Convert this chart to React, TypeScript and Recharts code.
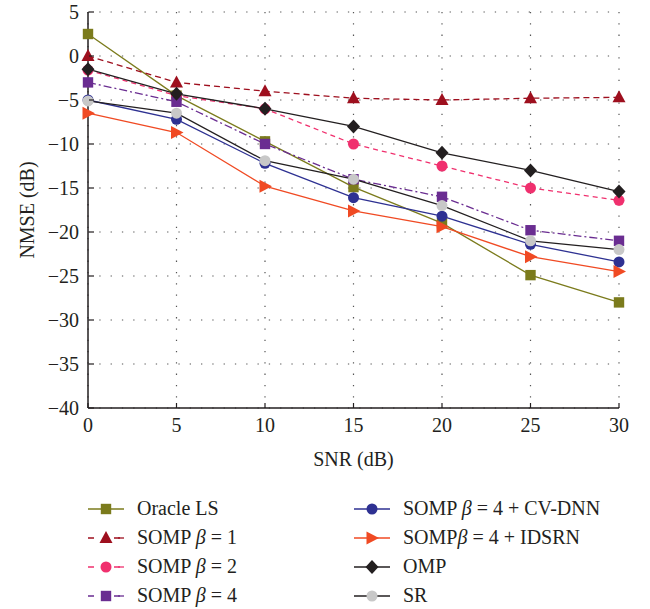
import React from "react";
import { LineChart, Line, XAxis, YAxis, CartesianGrid } from "recharts";

const snr = [0, 5, 10, 15, 20, 25, 30];
const yTicks = [5, 0, -5, -10, -15, -20, -25, -30, -35, -40];

const oracleLs = [2.5, -4.5, -9.7, -14.9, -19, -24.9, -28];
const somp1 = [0, -3, -4, -4.8, -5, -4.8, -4.7];
const somp2 = [-1.6, -4.5, -6, -10, -12.5, -15, -16.4];
const somp4 = [-3, -5.2, -10, -14, -16, -19.8, -21];
const cvDnn = [-5, -7.2, -12.2, -16.1, -18.2, -21.4, -23.4];
const idsrn = [-6.5, -8.7, -14.8, -17.6, -19.4, -22.8, -24.5];
const omp = [-1.5, -4.3, -6, -8, -11, -13, -15.4];
const sr = [-5.1, -6.5, -11.9, -14, -17, -21, -22];

type Shape = "square" | "triangle" | "circle" | "right" | "diamond";

const series = [
  { key: "oracle", name: "Oracle LS", values: oracleLs, line: "#7b7b1c", fill: "#7b7b1c", dash: undefined, shape: "square" as Shape },
  { key: "somp1", name: "SOMP β = 1", values: somp1, line: "#9e0f1e", fill: "#9e0f1e", dash: "6 4", shape: "triangle" as Shape },
  { key: "somp2", name: "SOMP β = 2", values: somp2, line: "#f0306e", fill: "#f0306e", dash: "5 4", shape: "circle" as Shape },
  { key: "somp4", name: "SOMP β = 4", values: somp4, line: "#6a2d91", fill: "#6a2d91", dash: "8 3 2 3", shape: "square" as Shape },
  { key: "cvdnn", name: "SOMP β = 4 + CV-DNN", values: cvDnn, line: "#2e3192", fill: "#2e3192", dash: undefined, shape: "circle" as Shape },
  { key: "idsrn", name: "SOMPβ = 4 + IDSRN", values: idsrn, line: "#f04a23", fill: "#f04a23", dash: undefined, shape: "right" as Shape },
  { key: "omp", name: "OMP", values: omp, line: "#231f20", fill: "#231f20", dash: undefined, shape: "diamond" as Shape },
  { key: "sr", name: "SR", values: sr, line: "#231f20", fill: "#c8c8c8", dash: undefined, shape: "circle" as Shape },
];

const data = snr.map((x, i) => {
  const row: Record<string, number> = { snr: x };
  series.forEach((s) => (row[s.key] = s.values[i]));
  return row;
});

const FONT = "Liberation Serif";
const minus = (v: number) => (v < 0 ? "\u2212" + Math.abs(v) : String(v));

function Marker({ cx, cy, shape, fill }: { cx: number; cy: number; shape: Shape; fill: string }) {
  if (cx == null || cy == null) return null;
  switch (shape) {
    case "square":
      return <rect x={cx - 5.2} y={cy - 5.2} width={10.4} height={10.4} fill={fill} />;
    case "triangle":
      return <polygon points={`${cx},${cy - 7} ${cx + 6.5},${cy + 5} ${cx - 6.5},${cy + 5}`} fill={fill} />;
    case "right":
      return <polygon points={`${cx - 5.5},${cy - 6.5} ${cx + 7},${cy} ${cx - 5.5},${cy + 6.5}`} fill={fill} />;
    case "diamond":
      return <polygon points={`${cx},${cy - 7} ${cx + 6.5},${cy} ${cx},${cy + 7} ${cx - 6.5},${cy}`} fill={fill} />;
    default:
      return <circle cx={cx} cy={cy} r={5.5} fill={fill} />;
  }
}

function renderName(name: string) {
  const parts = name.split("β");
  return parts.map((p, i) => (
    <React.Fragment key={i}>
      {i > 0 && <i>β</i>}
      {p}
    </React.Fragment>
  ));
}

function LegendItem({ s }: { s: (typeof series)[number] }) {
  return (
    <div style={{ display: "flex", alignItems: "center", height: 29 }}>
      <svg width={36} height={20} style={{ marginRight: 13 }}>
        <line x1={0} x2={36} y1={10} y2={10} stroke={s.line} strokeWidth={1.3} strokeDasharray={s.dash ? "6 20" : undefined} />
        {s.dash && <line x1={30} x2={36} y1={10} y2={10} stroke={s.line} strokeWidth={1.3} />}
        <Marker cx={18} cy={10} shape={s.shape} fill={s.fill} />
      </svg>
      <span>{renderName(s.name)}</span>
    </div>
  );
}

const LeftTick = (p: any) => (
  <g>
    <text x={p.x} y={p.y} dy="0.35em" textAnchor="end" fill="#231f20" fontSize={20} fontFamily={FONT}>
      {minus(p.payload.value)}
    </text>
    <line x1={p.x + 10} x2={p.x + 15} y1={p.y} y2={p.y} stroke="#231f20" strokeWidth={1.2} />
  </g>
);

const RightTick = (p: any) => (
  <line x1={p.x - 5} x2={p.x} y1={p.y} y2={p.y} stroke="#444" strokeWidth={1.2} />
);

const BottomTick = (p: any) => (
  <g>
    <text x={p.x} y={p.y} dy="0.8em" textAnchor="middle" fill="#231f20" fontSize={20} fontFamily={FONT}>
      {minus(p.payload.value)}
    </text>
    <line x1={p.x} x2={p.x} y1={p.y - 8} y2={p.y - 13} stroke="#231f20" strokeWidth={1.2} />
  </g>
);

const TopTick = (p: any) => (
  <line x1={p.x} x2={p.x} y1={p.y} y2={p.y + 5} stroke="#231f20" strokeWidth={1.2} />
);

export default function App() {
  return (
    <div style={{ position: "absolute", left: 0, top: 0, width: 650, height: 609, background: "#fff", fontFamily: FONT, color: "#231f20" }}>
      <LineChart width={650} height={609} data={data} margin={{ top: 12, right: 31, left: 0, bottom: 141 }}>
        <CartesianGrid stroke="#555" strokeDasharray="1.3 10" strokeWidth={1.2} />
        <XAxis
          dataKey="snr"
          type="number"
          domain={[0, 30]}
          ticks={snr}
          height={60}
          tickSize={0}
          tickMargin={8}
          tickLine={false}
          axisLine={{ stroke: "#231f20", strokeWidth: 1.5 }}
          tick={BottomTick}
          label={{ value: "SNR (dB)", position: "insideBottom", offset: 2, fill: "#231f20", fontSize: 20, fontFamily: FONT }}
        />
        <XAxis xAxisId="t" orientation="top" dataKey="snr" type="number" domain={[0, 30]} ticks={snr} height={0} tickSize={0} tickMargin={0} tickLine={false} axisLine={{ stroke: "#231f20", strokeWidth: 1.5 }} tick={TopTick} />
        <YAxis
          type="number"
          domain={[-40, 5]}
          ticks={yTicks}
          width={88}
          tickSize={0}
          tickMargin={9}
          tickLine={false}
          interval={0}
          axisLine={{ stroke: "#231f20", strokeWidth: 1.5 }}
          tick={LeftTick}
          label={{ value: "NMSE (dB)", angle: -90, position: "insideLeft", offset: 27, fill: "#231f20", fontSize: 20, fontFamily: FONT, style: { textAnchor: "middle" } }}
        />
        <YAxis yAxisId="r" orientation="right" type="number" domain={[-40, 5]} ticks={yTicks} width={0} tickSize={0} tickMargin={0} tickLine={false} interval={0} axisLine={{ stroke: "#555", strokeWidth: 2 }} tick={RightTick} />
        {series.map((s) => (
          <Line
            key={s.key}
            dataKey={s.key}
            name={s.name}
            stroke={s.line}
            strokeWidth={1.3}
            strokeDasharray={s.dash}
            isAnimationActive={false}
            dot={(p: any) => <Marker key={`${s.key}-${p.index}`} cx={p.cx} cy={p.cy} shape={s.shape} fill={s.fill} />}
            activeDot={false}
          />
        ))}
      </LineChart>
      <div style={{ position: "absolute", left: 88, top: 494, fontSize: 20 }}>
        {series.slice(0, 4).map((s) => (
          <LegendItem key={s.key} s={s} />
        ))}
      </div>
      <div style={{ position: "absolute", left: 354, top: 494, fontSize: 20 }}>
        {series.slice(4).map((s) => (
          <LegendItem key={s.key} s={s} />
        ))}
      </div>
    </div>
  );
}
